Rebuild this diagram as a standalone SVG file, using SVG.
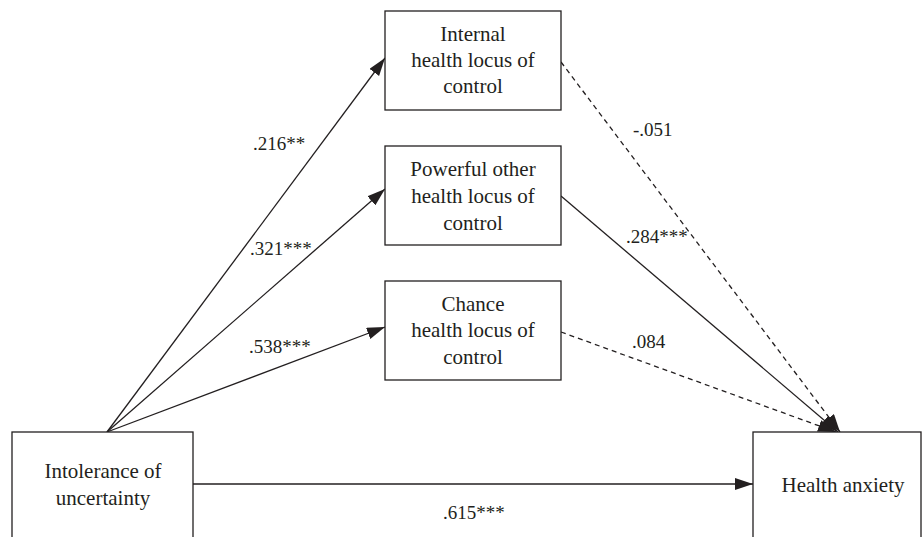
<svg xmlns="http://www.w3.org/2000/svg" width="922" height="537" viewBox="0 0 922 537">
<style>
.box{fill:#fff;stroke:#231f20;stroke-width:1.3}
.nt{font-family:"Liberation Serif","Times New Roman",serif;font-size:21px;fill:#231f20;text-anchor:middle}
.lb{font-family:"Liberation Serif","Times New Roman",serif;font-size:19px;fill:#231f20}
.ln{stroke:#231f20;stroke-width:1.3;fill:none}
.dash{stroke-dasharray:5 4}
</style>
<defs>
<marker id="ah" markerUnits="userSpaceOnUse" markerWidth="20" markerHeight="14" refX="18" refY="6" orient="auto">
<path d="M0,0 L18,6 L0,12 z" fill="#231f20"/>
</marker>
</defs>
<rect width="922" height="537" fill="#fff"/>
<g id="connectors">
<line class="ln" x1="107" y1="432" x2="385" y2="58" marker-end="url(#ah)"/>
<line class="ln" x1="107" y1="432" x2="385" y2="189" marker-end="url(#ah)"/>
<line class="ln" x1="107" y1="432" x2="385" y2="327" marker-end="url(#ah)"/>
<line class="ln" x1="193" y1="484" x2="753" y2="484" marker-end="url(#ah)"/>
<line class="ln dash" x1="561" y1="62" x2="840" y2="432" marker-end="url(#ah)"/>
<line class="ln" x1="561" y1="196" x2="838" y2="432" marker-end="url(#ah)"/>
<line class="ln dash" x1="561" y1="332" x2="836" y2="432" marker-end="url(#ah)"/>
<text class="lb" x="253" y="150">.216**</text>
<text class="lb" x="250" y="255">.321***</text>
<text class="lb" x="249" y="353">.538***</text>
<text class="lb" x="633" y="136">-.051</text>
<text class="lb" x="626" y="243">.284***</text>
<text class="lb" x="632" y="348">.084</text>
<text class="lb" x="443" y="519">.615***</text>
</g>
<g id="internal">
<rect class="box" x="385" y="11" width="176" height="99"/>
<text class="nt" x="473" y="41">Internal</text>
<text class="nt" x="473" y="67">health locus of</text>
<text class="nt" x="473" y="93">control</text>
</g>
<g id="powerful">
<rect class="box" x="385" y="146" width="176" height="99"/>
<text class="nt" x="473" y="176">Powerful other</text>
<text class="nt" x="473" y="203">health locus of</text>
<text class="nt" x="473" y="230">control</text>
</g>
<g id="chance">
<rect class="box" x="385" y="281" width="176" height="99"/>
<text class="nt" x="473" y="311">Chance</text>
<text class="nt" x="473" y="337">health locus of</text>
<text class="nt" x="473" y="364">control</text>
</g>
<g id="intolerance">
<rect class="box" x="12" y="432" width="181" height="110"/>
<text class="nt" x="103" y="478">Intolerance of</text>
<text class="nt" x="103" y="505">uncertainty</text>
</g>
<g id="health-anxiety">
<rect class="box" x="753" y="432" width="168" height="110"/>
<text class="nt" x="843" y="492">Health anxiety</text>
</g>
</svg>
